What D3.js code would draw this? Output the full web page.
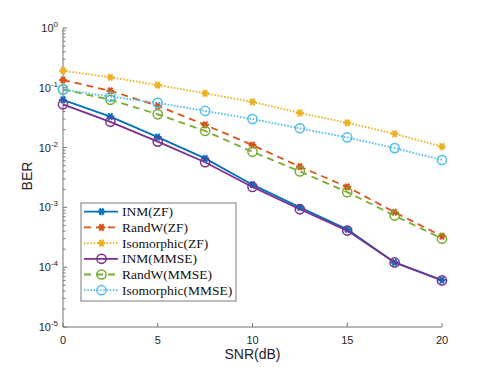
<!DOCTYPE html>
<html lang="en">
<head>
    <meta charset="UTF-8">
    <title>BER vs SNR</title>
    <script src="https://d3js.org/d3.v7.min.js"></script>
    <style>
        body {
            margin: 0;
            background-color: #fff;
        }
        svg {
            display: block;
        }
        .tick-label {
            font-family: Arial, "Liberation Sans", sans-serif;
            font-size: 11px;
            fill: #262626;
        }
        .axis-title {
            font-family: Arial, "Liberation Sans", sans-serif;
            font-size: 14px;
            fill: #262626;
        }
        .legend-text {
            font-family: "Liberation Serif", "DejaVu Serif", serif;
            font-size: 13.5px;
            fill: #111;
        }
    </style>
</head>
<body>
    <svg width="489" height="367"></svg>
    <script>
        // SNR points (dB)
        const snr = [0, 2.5, 5, 7.5, 10, 12.5, 15, 17.5, 20];

        // BER values
        const inmZF     = [0.063, 0.033, 0.015, 0.0066, 0.0024, 0.0010, 0.00043, 0.00012, 0.000061];
        const randwZF   = [0.135, 0.089, 0.050, 0.024, 0.011, 0.0048, 0.0022, 0.00083, 0.00033];
        const isoZF     = [0.193, 0.150, 0.111, 0.081, 0.058, 0.038, 0.026, 0.017, 0.0104];
        const inmMMSE   = [0.053, 0.027, 0.0126, 0.0057, 0.0022, 0.00093, 0.00041, 0.00012, 0.00006];
        const randwMMSE = [0.094, 0.063, 0.036, 0.019, 0.0085, 0.0040, 0.0018, 0.00073, 0.00030];
        const isoMMSE   = [0.094, 0.071, 0.056, 0.041, 0.030, 0.021, 0.0148, 0.0098, 0.0062];

        const seriesNames = ["INM(ZF)", "RandW(ZF)", "Isomorphic(ZF)", "INM(MMSE)", "RandW(MMSE)", "Isomorphic(MMSE)"];

        const xTicks = [0, 5, 10, 15, 20];
        const yExponents = [0, -1, -2, -3, -4, -5];

        const svg = d3.select("svg");

        const x = d3.scaleLinear().domain([0, 20]).range([63, 442]);
        const y = d3.scaleLog().domain([1e-5, 1]).range([327, 28]);

        // style of each series (matlab default colours)
        const series = [
            { name: seriesNames[0], values: inmZF,     color: "#0072BD", dash: null,  marker: "star" },
            { name: seriesNames[1], values: randwZF,   color: "#D95319", dash: "7,5", marker: "star" },
            { name: seriesNames[2], values: isoZF,     color: "#EDB120", dash: "1.6,1.6", marker: "star" },
            { name: seriesNames[3], values: inmMMSE,   color: "#7E2F8E", dash: null,  marker: "circle" },
            { name: seriesNames[4], values: randwMMSE, color: "#77AC30", dash: "7,5", marker: "circle" },
            { name: seriesNames[5], values: isoMMSE,   color: "#4DBEEE", dash: "1.6,1.6", marker: "circle" }
        ];

        const axisColor = "#737373";

        // axes
        const ax = svg.append("g");
        ax.append("line")
            .attr("x1", x(0)).attr("x2", x(20))
            .attr("y1", y(1e-5)).attr("y2", y(1e-5))
            .attr("stroke", axisColor);
        ax.append("line")
            .attr("x1", x(0)).attr("x2", x(0))
            .attr("y1", y(1e-5)).attr("y2", y(1))
            .attr("stroke", axisColor);

        // x ticks (inward)
        xTicks.forEach(t => {
            ax.append("line")
                .attr("x1", x(t)).attr("x2", x(t))
                .attr("y1", y(1e-5)).attr("y2", y(1e-5) - 4)
                .attr("stroke", axisColor);
            ax.append("text")
                .attr("class", "tick-label")
                .attr("x", x(t))
                .attr("y", y(1e-5) + 17)
                .attr("text-anchor", "middle")
                .text(t);
        });

        // y ticks: majors + log minors
        yExponents.forEach(e => {
            const v = Math.pow(10, e);
            ax.append("line")
                .attr("x1", x(0)).attr("x2", x(0) + 4)
                .attr("y1", y(v)).attr("y2", y(v))
                .attr("stroke", axisColor);
            const lab = ax.append("text")
                .attr("class", "tick-label")
                .attr("x", 58)
                .attr("y", y(v) + 4)
                .attr("text-anchor", "end");
            lab.append("tspan").text("10");
            lab.append("tspan")
                .attr("dy", -5)
                .style("font-size", "8px")
                .text(e);
            if (e > -5) {
                for (let m = 2; m <= 9; m++) {
                    const mv = m * Math.pow(10, e - 1);
                    ax.append("line")
                        .attr("x1", x(0)).attr("x2", x(0) + 2.5)
                        .attr("y1", y(mv)).attr("y2", y(mv))
                        .attr("stroke", axisColor);
                }
            }
        });

        svg.append("text")
            .attr("class", "axis-title")
            .attr("x", x(10))
            .attr("y", 359)
            .attr("text-anchor", "middle")
            .text("SNR(dB)");

        svg.append("text")
            .attr("class", "axis-title")
            .attr("transform", "translate(31.5," + 176 + ") rotate(-90)")
            .attr("text-anchor", "middle")
            .text("BER");

        const line = d3.line()
            .x(d => x(d[0]))
            .y(d => y(d[1]));

        function drawMarker(g, cx, cy, type, color) {
            if (type === "star") {
                const r = 3.8;
                const pts = [[r, 0], [r * 0.5, r * 0.87], [r * 0.5, -r * 0.87]];
                pts.forEach(p => {
                    g.append("line")
                        .attr("x1", cx - p[0]).attr("y1", cy - p[1])
                        .attr("x2", cx + p[0]).attr("y2", cy + p[1])
                        .attr("stroke", color)
                        .attr("stroke-width", 2.2);
                });
                g.append("circle")
                    .attr("cx", cx).attr("cy", cy).attr("r", 2.3)
                    .attr("fill", color);
            } else {
                g.append("circle")
                    .attr("cx", cx).attr("cy", cy).attr("r", 4.6)
                    .attr("fill", "none")
                    .attr("stroke", color)
                    .attr("stroke-width", 1.5);
            }
        }

        series.forEach(s => {
            const g = svg.append("g");
            const pts = snr.map((v, i) => [v, s.values[i]]);
            g.append("path")
                .datum(pts)
                .attr("d", line)
                .attr("fill", "none")
                .attr("stroke", s.color)
                .attr("stroke-width", 1.8)
                .attr("stroke-dasharray", s.dash);
            pts.forEach(p => drawMarker(g, x(p[0]), y(p[1]), s.marker, s.color));
        });

        // legend
        const lg = svg.append("g");
        lg.append("rect")
            .attr("x", 81).attr("y", 203)
            .attr("width", 155).attr("height", 98)
            .attr("fill", "#fff")
            .attr("stroke", "#7a7a7a")
            .attr("stroke-width", 1);

        series.forEach((s, i) => {
            const yy = 211.7 + i * 15.7;
            lg.append("line")
                .attr("x1", 84).attr("x2", 118)
                .attr("y1", yy).attr("y2", yy)
                .attr("stroke", s.color)
                .attr("stroke-width", 1.8)
                .attr("stroke-dasharray", s.dash);
            drawMarker(lg, 101.5, yy, s.marker, s.color);
            lg.append("text")
                .attr("class", "legend-text")
                .attr("x", 122)
                .attr("y", yy + 4.5)
                .text(s.name);
        });
    </script>
</body>
</html>
